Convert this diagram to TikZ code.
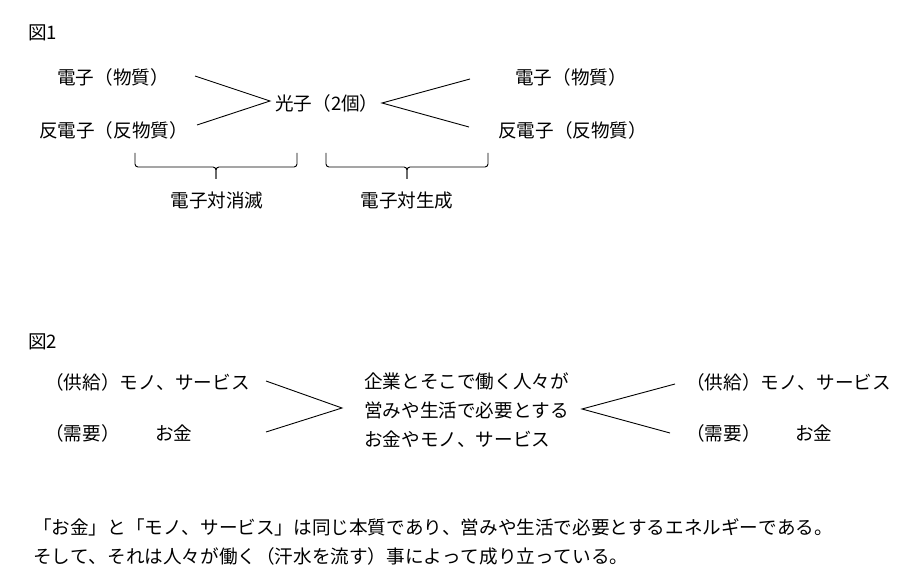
\documentclass[tikz,border=0pt]{standalone}
\usepackage{fontspec}
\setmainfont{Noto Sans CJK JP}[Kerning=Off]
\begin{document}
\begin{tikzpicture}[x=1pt,y=-1pt,
  lbl/.style={anchor=west,inner sep=0pt,font=\fontsize{18.6}{22}\selectfont},
  clbl/.style={anchor=center,inner sep=0pt,font=\fontsize{18.6}{22}\selectfont},
  conn/.style={draw=black,line width=0.9pt},
  bracepath/.style={draw=black,line width=0.9pt,rounded corners=3pt}]
\useasboundingbox[fill=white] (0,0) rectangle (914,588);
% ---------- Figure 1
\node[lbl] (fig1) at (28,33) {図1};
\node[lbl] (l1) at (57,77) {電子（物質）};
\node[lbl] (l2) at (39,130) {反電子（反物質）};
\node[lbl] (ph) at (275,103) {光子（2個）};
\node[lbl] (r1) at (515,77) {電子（物質）};
\node[lbl] (r2) at (498,130) {反電子（反物質）};
\coordinate (a1) at (195,76);
\coordinate (a2) at (197,125);
\coordinate (am) at (270,101);
\coordinate (b1) at (470,79);
\coordinate (b2) at (469,127);
\coordinate (bm) at (382,103);
\draw[conn] (a1) -- (am) -- (a2);
\draw[conn] (b1) -- (bm) -- (b2);
% braces
\coordinate (bl1) at (135,153);
\coordinate (bl2) at (297,153);
\coordinate (blm) at (216,167);
\coordinate (blt) at (216,179);
\draw[bracepath] (bl1) |- (blm) -- (blt);
\draw[bracepath] (bl2) |- (blm) -- (blt);
\coordinate (br1) at (326,153);
\coordinate (br2) at (488,153);
\coordinate (brm) at (407,167);
\coordinate (brt) at (407,179);
\draw[bracepath] (br1) |- (brm) -- (brt);
\draw[bracepath] (br2) |- (brm) -- (brt);
\node[clbl] (ann) at (217,200) {電子対消滅};
\node[clbl] (cre) at (407,200) {電子対生成};
% ---------- Figure 2
\node[lbl] (fig2) at (28,342) {図2};
\node[lbl] (s1) at (45,382) {（供給）モノ、サービス};
\node[lbl] (d1) at (45,433) {（需要）};
\node[lbl] (m1) at (155,433) {お金};
\node[lbl] (c1) at (364,381) {企業とそこで働く人々が};
\node[lbl] (c2) at (364,410) {営みや生活で必要とする};
\node[lbl] (c3) at (364,439) {お金やモノ、サービス};
\node[lbl] (s2) at (686,382) {（供給）モノ、サービス};
\node[lbl] (d2) at (686,433) {（需要）};
\node[lbl] (m2) at (795,433) {お金};
\coordinate (p1) at (266,381);
\coordinate (p2) at (266,432);
\coordinate (pm) at (342,408);
\coordinate (q1) at (675,384);
\coordinate (q2) at (670,433);
\coordinate (qm) at (582,409);
\draw[conn] (p1) -- (pm) -- (p2);
\draw[conn] (q1) -- (qm) -- (q2);
% ---------- Text
\node[lbl] (t1) at (33,527) {「お金」と「モノ、サービス」は同じ本質であり、営みや生活で必要とするエネルギーである。};
\node[lbl] (t2) at (33,556) {そして、それは人々が働く（汗水を流す）事によって成り立っている。};
\end{tikzpicture}
\end{document}
